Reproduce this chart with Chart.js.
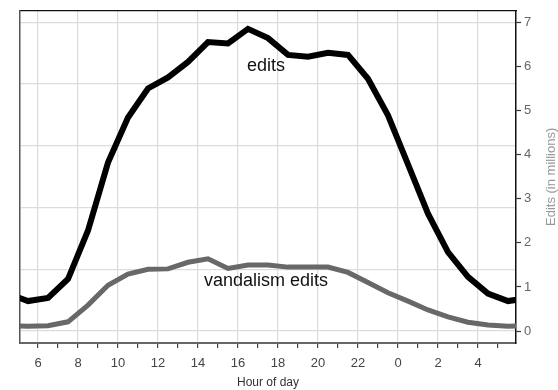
<!DOCTYPE html>
<html><head><meta charset="utf-8">
<script src="https://cdn.jsdelivr.net/npm/chart.js@4.4.1/dist/chart.umd.min.js"></script>
<style>html,body{margin:0;padding:0;background:#fff}</style>
</head><body>
<canvas id="c" width="558" height="390"></canvas>
<script>
// hour of day (half-hour centres), continuing past midnight (24 = 0, 28 = 4)
const hours = [4.5,5.5,6.5,7.5,8.5,9.5,10.5,11.5,12.5,13.5,14.5,15.5,16.5,17.5,18.5,19.5,20.5,21.5,22.5,23.5,24.5,25.5,26.5,27.5,28.5,29.5,30.5];
// edits (in millions)
const edits = [0.85,0.68,0.75,1.18,2.28,3.82,4.84,5.50,5.75,6.10,6.55,6.52,6.85,6.64,6.26,6.22,6.31,6.26,5.72,4.89,3.78,2.66,1.79,1.23,0.85,0.68,0.75];
// vandalism edits
const vandalism = [0.13,0.11,0.12,0.21,0.59,1.04,1.29,1.40,1.41,1.56,1.64,1.42,1.50,1.50,1.45,1.45,1.45,1.33,1.10,0.87,0.68,0.48,0.32,0.20,0.14,0.11,0.12];
const xTickHours = [6,7,8,9,10,11,12,13,14,15,16,17,18,19,20,21,22,23,24,25,26,27,28,29];
const yTicks = [0,1,2,3,4,5,6,7];
const gridLevels = [0,1.4,2.8,4.2,5.6,7];
const seriesNames = ['edits','vandalism edits'];
const xTitle = 'Hour of day';
const yTitle = 'Edits (in millions)';

const FONT = '"Liberation Sans", Arial, Helvetica, sans-serif';
const X_MIN = 5.1, X_MAX = 29.9, Y_MIN = -0.27, Y_MAX = 7.26;

const toPts = (vals) => hours.map((h, i) => ({x: h, y: vals[i]}));

const annot = {
  id: 'annot',
  afterDraw(chart) {
    const {ctx, scales: {x, y}} = chart;
    ctx.save();
    ctx.textAlign = 'center';
    ctx.textBaseline = 'middle';
    ctx.fillStyle = '#111';
    ctx.font = '18px ' + FONT;
    ctx.fillText(seriesNames[0], x.getPixelForValue(17.4), y.getPixelForValue(6.0));
    ctx.fillText(seriesNames[1], x.getPixelForValue(17.4), y.getPixelForValue(1.13));
    ctx.translate(551, (chart.chartArea.top + chart.chartArea.bottom) / 2);
    ctx.rotate(-Math.PI / 2);
    ctx.fillStyle = '#999';
    ctx.font = '13px ' + FONT;
    ctx.fillText(yTitle, 0, 0);
    ctx.restore();
  }
};

new Chart(document.getElementById('c'), {
  type: 'line',
  data: {
    datasets: [
      {label: seriesNames[1], data: toPts(vandalism), borderColor: '#686868', borderWidth: 5,
       pointRadius: 0, tension: 0, clip: 0, xAxisID: 'x', yAxisID: 'y', borderJoinStyle: 'miter'},
      {label: seriesNames[0], data: toPts(edits), borderColor: '#000', borderWidth: 6,
       pointRadius: 0, tension: 0, clip: 0, xAxisID: 'x', yAxisID: 'y', borderJoinStyle: 'miter'}
    ]
  },
  options: {
    responsive: false,
    animation: false,
    events: [],
    layout: {padding: {left: 20, top: 10, right: 0, bottom: 0}},
    plugins: {legend: {display: false}, tooltip: {enabled: false}},
    scales: {
      x: {
        type: 'linear', position: 'bottom', min: X_MIN, max: X_MAX,
        afterBuildTicks: s => { s.ticks = xTickHours.map(v => ({value: v})); },
        afterFit: s => { s.height = 47; },
        ticks: {
          autoSkip: false, maxRotation: 0, minRotation: 0, padding: 8,
          color: '#444', font: {family: FONT, size: 13},
          callback: v => (v % 2 === 0 ? String(v % 24) : '')
        },
        grid: {
          color: c => (c.tick && c.tick.value % 2 === 0 ? '#dcdcdc' : 'rgba(0,0,0,0)'),
          lineWidth: 1.2, drawTicks: true, tickLength: 5, tickColor: '#444', tickWidth: 1.2
        },
        border: {display: true, color: '#666', width: 2},
        title: {display: true, text: xTitle, color: '#333', font: {family: FONT, size: 12}, padding: {top: 0, bottom: 0}}
      },
      xt: {
        type: 'linear', position: 'top', min: X_MIN, max: X_MAX,
        afterFit: s => { s.height = 0; },
        ticks: {display: false},
        grid: {display: true, drawOnChartArea: false, drawTicks: false},
        border: {display: true, color: '#111', width: 1.2}
      },
      yg: {
        type: 'linear', position: 'left', min: Y_MIN, max: Y_MAX,
        afterBuildTicks: s => { s.ticks = gridLevels.map(v => ({value: v})); },
        afterFit: s => { s.width = 0; },
        ticks: {display: false},
        grid: {color: '#dcdcdc', lineWidth: 1.2, drawTicks: false},
        border: {display: true, color: '#555', width: 1.5}
      },
      y: {
        type: 'linear', position: 'right', min: Y_MIN, max: Y_MAX,
        afterBuildTicks: s => { s.ticks = yTicks.map(v => ({value: v})); },
        afterFit: s => { s.width = 42; },
        ticks: {color: '#666', font: {family: FONT, size: 13}, padding: 3},
        grid: {drawOnChartArea: false, drawTicks: true, tickLength: 5, tickColor: '#333', tickWidth: 1.2},
        border: {display: true, color: '#111', width: 1.5}
      }
    }
  },
  plugins: [annot]
});
</script>
</body></html>
